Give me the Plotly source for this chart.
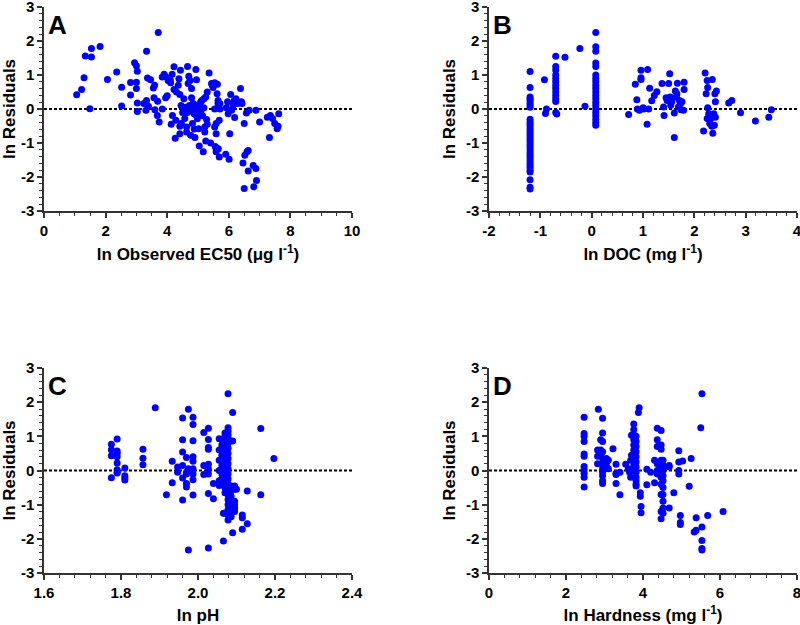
import plotly.graph_objects as go

# ---------------- Panel A: ln Observed EC50 vs ln residuals ----------------
ec50_x = [1.06, 1.22, 1.30, 1.34, 1.54, 1.54, 1.49, 1.82, 2.06, 2.36, 2.52, 2.52, 2.81, 2.81, 2.94, 3.00,
          3.03, 3.00, 3.00, 3.03, 3.03, 3.33, 3.36, 3.46, 3.33, 3.31, 3.24, 3.39, 3.55, 3.57, 3.59, 3.60,
          3.71, 3.68, 3.74, 3.69, 3.84, 3.90, 3.84, 3.95, 4.00, 4.03, 4.11, 4.16, 4.22, 4.13, 4.17, 4.26,
          4.28, 4.22, 4.30, 4.36, 4.38, 4.41, 4.41, 4.43, 4.41, 4.46, 4.55, 4.54, 4.57, 4.63, 4.63, 4.66,
          4.68, 4.70, 4.74, 4.76, 4.79, 4.79, 4.84, 4.82, 4.88, 4.90, 4.93, 4.95, 4.95, 4.95, 4.98, 5.02,
          5.04, 5.09, 5.12, 5.17, 5.19, 5.19, 5.22, 5.22, 5.25, 5.25, 5.28, 5.30, 5.30, 5.36, 5.41, 5.44,
          5.46, 5.49, 5.54, 5.54, 5.54, 5.56, 5.59, 5.59, 5.59, 5.59, 5.62, 5.63, 5.65, 5.65, 5.66, 5.69,
          5.69, 5.71, 5.71, 5.90, 5.92, 5.96, 5.98, 6.01, 6.03, 6.06, 6.09, 6.14, 6.18, 6.19, 6.23, 6.30,
          6.38, 6.41, 6.43, 6.46, 6.50, 6.50, 6.52, 6.57, 6.59, 6.63, 6.63, 6.66, 6.79, 6.81, 6.88, 6.88,
          6.90, 7.00, 7.25, 7.32, 7.35, 7.42, 7.49, 7.57, 7.60, 7.62,
          4.60, 4.70, 4.75, 4.80, 4.85, 4.90, 5.00, 5.05, 4.65, 4.55, 4.72, 4.95, 5.10, 4.88, 5.00,
          4.10, 3.95, 4.50, 4.45, 5.15]
ec50_res = [0.42, 0.57, 0.92, 1.56, 1.78, 1.53, 0.01, 1.84, 0.87, 1.09, 0.64, 0.09, 0.78, 0.41, 1.36, 1.27,
            1.11, 0.79, 0.60, 0.18, -0.07, 1.70, 0.91, 0.86, 0.25, -0.04, 0.16, 0.08, 0.62, 0.33, 0.70, -0.02,
            2.25, -0.19, -0.38, 0.23, 0.94, 1.02, 0.00, 0.33, 0.39, 0.84, 0.77, 1.02, 1.24, -0.45, -0.19, -0.86,
            -0.33, 0.57, 0.50, 0.70, 0.89, 0.43, -0.73, 1.14, -0.51, -0.43, -0.04, 0.30, -0.28, -0.53, -0.68, 1.25,
            0.75, 0.96, 0.84, -0.77, 0.33, 0.60, 0.16, -0.43, -0.59, -0.84, 1.16, 0.86, 0.00, -0.19, -0.29, -0.58,
            -1.09, 0.21, 0.25, -1.26, 0.30, 0.04, -0.53, -0.68, 0.35, -0.94, -0.31, -0.45, 0.50, 1.06, -1.00, 0.75,
            0.70, 0.63, 0.77, 0.00, -0.53, -1.10, -0.43, -0.73, -1.17, -1.26, 0.45, 0.73, 0.25, 0.16, -1.17, -1.41,
            -0.33, 0.00, 0.16, -1.33, 0.04, 0.21, -0.14, -1.48, -0.73, 0.43, -0.04, 0.11, 0.25, -0.25, 0.30, 0.16,
            0.60, 0.21, 0.16, -1.59, -2.34, -0.43, -1.36, -0.12, -1.26, -1.22, -1.82, -0.04, -1.66, -2.29, -1.75, -0.04,
            -2.10, -0.38, -0.24, -0.84, -0.19, -0.28, -0.43, -0.58, -0.51, -0.14,
            0.05, 0.00, -0.05, 0.02, -0.08, 0.05, -0.10, 0.00, -0.10, 0.02, 0.10, 0.08, -0.05, -0.15, 0.12,
            0.85, 0.95, -0.10, 0.10, -0.20]

# ---------------- Panel B: ln DOC vs ln residuals ----------------
doc_x = [
    -1.20, -1.20, -1.20, -1.20, -1.20, -1.20, -1.20, -1.20, -1.20, -1.20, -1.20, -1.20, -1.20, -1.20, -1.20,
    -1.20, -1.20, -1.20, -1.20, -1.20, -1.20, -1.20, -1.20, -1.20, -1.20, -1.20, -1.20, -1.20, -1.20, -1.20,
    -1.20, -1.20, -1.20,
    -0.92, -0.90, -0.88,
    -0.70, -0.70, -0.70, -0.70, -0.70, -0.70, -0.70, -0.70, -0.70, -0.70, -0.70, -0.70, -0.70, -0.68,
    -0.52, -0.23, -0.13,
    0.08, 0.08, 0.08, 0.08, 0.08, 0.08, 0.08, 0.08, 0.08, 0.08, 0.08, 0.08, 0.08, 0.08, 0.08, 0.08, 0.08,
    0.08, 0.08, 0.08, 0.08,
    0.72, 0.85, 0.88, 0.89, 0.93, 0.96, 0.96, 0.96, 1.00, 1.02, 1.08, 1.09, 1.11, 1.13, 1.17, 1.22, 1.27,
    1.37, 1.40, 1.41, 1.45, 1.47, 1.50, 1.52, 1.53, 1.54, 1.56, 1.61, 1.61, 1.63, 1.65, 1.66, 1.67, 1.69,
    1.71, 1.73, 1.74, 1.76, 1.79, 1.80, 1.80,
    2.18, 2.21, 2.23, 2.25, 2.25, 2.26, 2.26, 2.28, 2.30, 2.32, 2.34, 2.35, 2.36, 2.38, 2.39, 2.40, 2.41,
    2.41, 2.43, 2.67, 2.73, 2.90, 3.19, 3.45, 3.50]
doc_res = [
    1.10, 0.63, 0.35, 0.30, 0.25, 0.18, 0.12, 0.05, -0.30, -0.38, -0.45, -0.52, -0.60, -0.68, -0.75,
    -0.82, -0.90, -0.97, -1.05, -1.12, -1.20, -1.28, -1.35, -1.42, -1.50, -1.58, -1.65, -1.72, -1.80, -1.85,
    -2.08, -2.30, -2.35,
    0.86, -0.13, 0.00,
    1.55, 1.25, 1.15, 1.00, 0.90, 0.80, 0.70, 0.60, 0.50, 0.40, 0.30, 0.22, -0.10, -0.15,
    1.52, 1.78, 0.08,
    2.25, 1.83, 1.70, 1.35, 1.25, 1.00, 0.90, 0.80, 0.70, 0.60, 0.50, 0.40, 0.30, 0.20, 0.10, 0.00, -0.10,
    -0.20, -0.30, -0.40, -0.48,
    -0.16, 0.73, 0.27, 0.00, -0.04, 1.14, 0.92, 0.87, 0.04, 0.00, -0.45, 1.16, 0.00, 0.61, 0.24, 0.40, 0.51,
    0.75, 0.06, -0.19, 0.33, 0.25, 0.75, 1.04, 0.35, 0.11, 0.21, -0.84, -0.12, 0.53, 0.35, 0.45, 0.76, 0.06,
    0.25, 0.16, -0.02, 0.21, -0.04, 0.79, 0.57,
    -0.65, 1.06, 0.45, -0.28, 0.84, 0.63, 0.04, -0.14, -0.43, -0.28, -0.51, 0.87, -0.71, -0.14, -0.48, 0.45, 0.21,
    -0.24, 0.53, 0.18, 0.25, -0.11, -0.35, -0.24, -0.02]

# ---------------- Panel C: ln pH vs ln residuals ----------------
ph_x = [1.775, 1.775, 1.775, 1.775,
        1.790, 1.790, 1.790, 1.790, 1.790, 1.790, 1.790, 1.790,
        1.810, 1.810, 1.810, 1.810,
        1.857, 1.857, 1.857, 1.889, 1.918, 1.933, 1.933, 1.947, 1.947,
        1.960, 1.960, 1.960, 1.960, 1.960, 1.960,
        1.970, 1.970, 1.970, 1.970, 1.970, 1.975, 1.975, 1.975,
        1.987, 1.987, 1.987, 1.987, 1.987, 1.987, 1.987, 1.987, 1.987,
        2.015, 2.015, 2.015,
        2.027, 2.027, 2.027, 2.027, 2.027, 2.027, 2.027, 2.027, 2.027,
        2.040, 2.040,
        2.055, 2.055, 2.055, 2.055, 2.055, 2.055,
        2.062, 2.062, 2.062, 2.062, 2.062, 2.062, 2.062, 2.062, 2.062, 2.062,
        2.066, 2.066,
        2.070, 2.070, 2.070, 2.070, 2.070, 2.070, 2.070, 2.070, 2.070, 2.070, 2.070, 2.070, 2.070, 2.070,
        2.078, 2.078, 2.078, 2.078, 2.078, 2.078, 2.078, 2.078, 2.078, 2.078, 2.078, 2.078, 2.078, 2.078,
        2.078, 2.078, 2.078, 2.078, 2.078, 2.078, 2.078,
        2.086, 2.086, 2.086, 2.086, 2.086, 2.086, 2.086,
        2.090, 2.090, 2.090, 2.090,
        2.095, 2.095, 2.095, 2.095, 2.095, 2.095,
        2.100, 2.115, 2.115, 2.115, 2.128, 2.128, 2.163, 2.163, 2.197]
ph_res = [0.77, 0.61, 0.43, -0.21,
          0.92, 0.57, 0.50, 0.40, 0.22, 0.02, -0.05, -0.07,
          0.07, -0.15, -0.22, -0.28,
          0.62, 0.36, 0.17, 1.84, -0.71, 0.27, -0.36, 0.10, -0.05,
          1.54, 0.90, 0.54, 0.15, -0.22, -0.86,
          -0.05, -0.38, -0.48, -0.10, 0.38, 1.79, -2.33, 0.05,
          1.56, 1.35, 0.87, 0.40, 0.27, 0.05, -0.10, -0.27, -0.72,
          1.11, 0.15, -0.12,
          1.24, 0.91, 0.67, 0.62, 0.18, 0.05, -0.10, -0.67, -2.27,
          -0.38, -0.83,
          0.93, 0.60, 0.30, 0.00, -0.44, -0.30,
          0.90, 0.75, 0.60, 0.45, 0.30, 0.15, 0.05, -0.10, -0.25, -0.40,
          -2.06, -1.25,
          1.10, 1.00, 0.85, 0.70, 0.55, 0.40, 0.25, 0.10, -0.05, -0.20, -0.35, -0.50, -0.65, -1.25,
          2.25, 1.25, 1.15, 1.05, 0.95, 0.80, 0.65, 0.50, 0.35, 0.20, 0.05, -0.10, -0.25, -0.40,
          -0.55, -0.70, -0.85, -1.00, -1.15, -1.30, -1.45,
          -0.45, -0.60, -0.75, -0.90, -1.05, -1.20, -1.35,
          1.70, 0.86, -1.82, -1.20,
          -0.45, -0.55, -0.90, -1.00, -1.10, -1.20,
          -0.55, -1.30, -1.38, -1.72, -0.60, -1.56, 1.23, -0.71, 0.35]

# ---------------- Panel D: ln Hardness vs ln residuals ----------------
hard_x = [2.47, 2.47, 2.47, 2.47, 2.47, 2.47, 2.47, 2.47, 2.47, 2.47, 2.47,
          2.84, 2.90, 2.90, 2.90, 2.82, 2.82, 2.82,
          2.95, 2.95, 2.95, 2.95, 2.95, 2.95, 2.95, 2.95, 2.95, 2.95, 2.95,
          3.05, 3.05, 3.05, 3.10, 3.10, 3.22, 3.30, 3.30, 3.30, 3.30, 3.40, 3.40, 3.55,
          3.62, 3.65, 3.68, 3.68, 3.70, 3.70,
          3.76, 3.76, 3.76, 3.76, 3.76, 3.76, 3.76, 3.76, 3.76, 3.76,
          3.82, 3.82, 3.82, 3.82, 3.82, 3.82, 3.82, 3.82, 3.82, 3.82, 3.82, 3.82,
          3.88, 3.90, 3.93, 3.93, 3.95, 3.95, 4.10, 4.10, 4.20, 4.30, 4.30,
          4.37, 4.37, 4.37, 4.37, 4.37, 4.37,
          4.47, 4.47, 4.47, 4.47, 4.47, 4.47, 4.47, 4.47, 4.47, 4.47, 4.47,
          4.52, 4.52, 4.52, 4.52, 4.52, 4.52, 4.52, 4.52, 4.52, 4.52,
          4.68, 4.68, 4.68, 4.80, 4.93, 4.93, 4.93, 4.93, 4.97, 4.97, 4.97, 5.03, 5.20, 5.25,
          5.33, 5.38, 5.38, 5.50, 5.53, 5.53, 5.53, 5.53, 5.53, 5.68, 6.08]
hard_res = [1.56, 1.08, 1.00, 0.85, 0.48, 0.42, 0.12, 0.02, -0.08, -0.20, -0.48,
            1.79, 0.90, 0.60, 0.50, 0.60, 0.42, 0.20,
            1.53, 1.10, 0.85, 0.55, 0.35, 0.20, 0.05, -0.05, -0.15, -0.30, -0.38,
            0.35, 0.22, 0.10, 0.30, 0.05, 0.64, 0.18, -0.08, -0.38, -0.12, -0.71, -0.05, 0.18,
            0.05, -0.05, -0.20, 0.30, 0.45, 1.03,
            1.36, 1.20, 1.05, 0.90, 0.75, 0.60, 0.45, 0.30, 0.15, 0.00,
            1.00, 0.85, 0.70, 0.55, 0.40, 0.25, 0.10, -0.05, -0.20, -0.30, -0.40, -0.45,
            1.70, 1.84, -0.65, -0.75, -1.05, -1.24, -0.42, 0.04, -0.05, -0.36, 0.30,
            1.24, 0.90, 0.70, 0.20, 0.00, -0.10,
            1.17, 0.75, 0.62, 0.30, 0.10, 0.00, -0.20, -0.40, -0.70, -1.41, -1.20,
            0.30, 0.15, 0.00, -0.15, -0.30, -0.50, -0.70, -0.90, -1.10, -1.25,
            0.15, 0.10, -1.10, -0.65, 0.58, 0.25, 0.00, -0.10, -1.32, -1.52, -1.58, 0.28, -0.46, 0.35,
            -1.80, -1.75, -1.38, 1.25, 2.25, -1.65, -2.05, -2.28, -2.33, -1.32, -1.20]

# tick values / labels
y_ticks = [-3, -2, -1, 0, 1, 2, 3]
y_ticklabels = ["-3", "-2", "-1", "0", "1", "2", "3"]
ec50_ticks = [0, 2, 4, 6, 8, 10]
ec50_ticklabels = ["0", "2", "4", "6", "8", "10"]
doc_ticks = [-2, -1, 0, 1, 2, 3, 4]
doc_ticklabels = ["-2", "-1", "0", "1", "2", "3", "4"]
ph_ticks = [1.6, 1.8, 2.0, 2.2, 2.4]
ph_ticklabels = ["1.6", "1.8", "2.0", "2.2", "2.4"]
hard_ticks = [0, 2, 4, 6, 8]
hard_ticklabels = ["0", "2", "4", "6", "8"]

panels = [
    ("A", ec50_x, ec50_res, "ln Observed EC50 (\u03bcg l<sup>-1</sup>)", [0, 10], ec50_ticks, ec50_ticklabels, 0.5),
    ("B", doc_x, doc_res, "ln DOC (mg l<sup>-1</sup>)", [-2, 4], doc_ticks, doc_ticklabels, 0.2),
    ("C", ph_x, ph_res, "ln pH", [1.6, 2.4], ph_ticks, ph_ticklabels, 0.04),
    ("D", hard_x, hard_res, "ln Hardness (mg l<sup>-1</sup>)", [0, 8], hard_ticks, hard_ticklabels, 0.4),
]

xdomains = [[44 / 800, 352 / 800], [489 / 800, 797 / 800], [44 / 800, 352 / 800], [489 / 800, 797 / 800]]
ydomains = [[1 - 211 / 625, 1 - 7 / 625], [1 - 211 / 625, 1 - 7 / 625],
            [1 - 573 / 625, 1 - 368 / 625], [1 - 573 / 625, 1 - 368 / 625]]

FONT = "Liberation Sans, Arial, sans-serif"
fig = go.Figure()
layout = dict(width=800, height=625, margin=dict(l=0, r=0, t=0, b=0),
              paper_bgcolor="white", plot_bgcolor="white", showlegend=False,
              font=dict(family=FONT, color="black"))
shapes = []
annotations = []
for i, (lab, xs, ys, xtitle, xr, xt, xtl, mdt) in enumerate(panels):
    n = "" if i == 0 else str(i + 1)
    fig.add_trace(go.Scatter(x=xs, y=ys, mode="markers", xaxis="x" + n, yaxis="y" + n,
                             marker=dict(color="#0000FF", size=7, line=dict(width=0)),
                             name=lab))
    axcommon = dict(showgrid=False, zeroline=False, showline=True, linecolor="#333333",
                    linewidth=1.5, ticks="outside", ticklen=5, tickwidth=1.5, tickcolor="#333333",
                    automargin=False, ticklabeloverflow="allow",
                    tickfont=dict(family=FONT, size=15, color="black", weight="bold"))
    layout["xaxis" + n] = dict(axcommon, domain=xdomains[i], range=xr, tickmode="array",
                               tickvals=xt, ticktext=xtl, anchor="y" + n,
                               minor=dict(dtick=mdt, tick0=xr[0], ticks="outside", ticklen=3, tickwidth=1,
                                          tickcolor="#333333"),
                               title=dict(text=xtitle, standoff=10,
                                          font=dict(family=FONT, size=17, color="black", weight="bold")))
    layout["yaxis" + n] = dict(axcommon, domain=ydomains[i], range=[-3, 3], tickmode="array",
                               tickvals=y_ticks, ticktext=y_ticklabels, anchor="x" + n,
                               minor=dict(dtick=0.2, tick0=-3, ticks="outside", ticklen=3, tickwidth=1,
                                          tickcolor="#333333"),
                               title=dict(text="ln Residuals", standoff=6,
                                          font=dict(family=FONT, size=17, color="black", weight="bold")))
    shapes.append(dict(type="line", xref="x" + n + " domain", yref="y" + n, x0=0, x1=1, y0=0, y1=0,
                       line=dict(color="black", width=2, dash="3px,2px"), layer="below"))
    annotations.append(dict(text=lab, xref="paper", yref="paper",
                            x=(xdomains[i][0] * 800 + 2) / 800, y=ydomains[i][1] - 1 / 625,
                            xanchor="left", yanchor="top", showarrow=False,
                            font=dict(family=FONT, size=26, color="black", weight="bold")))
layout["shapes"] = shapes
layout["annotations"] = annotations
fig.update_layout(**layout)
fig.write_html("out.html", config={"displayModeBar": False},
               post_script="document.body.style.margin='0';document.body.style.overflow='hidden';")
